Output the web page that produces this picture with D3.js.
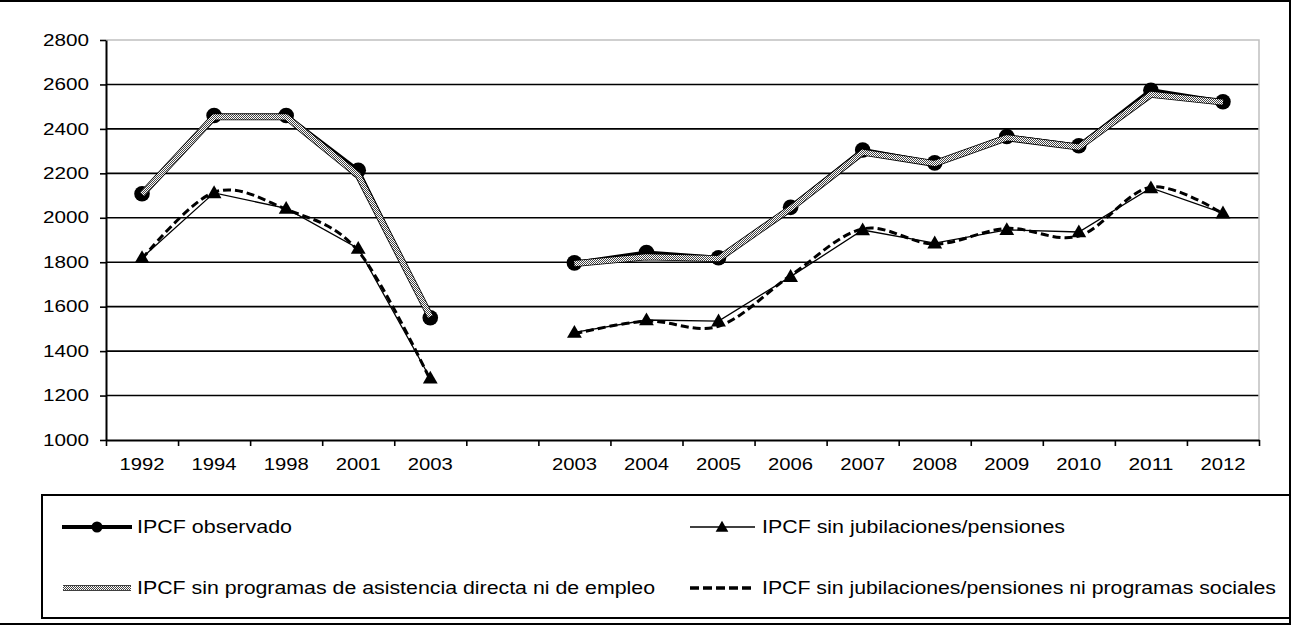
<!DOCTYPE html>
<html>
<head>
<meta charset="utf-8">
<script src="https://cdn.jsdelivr.net/npm/d3@7"></script>
<style>
  body { margin: 0; background: #fff; }
  svg { display: block; font-family: Arial, "Liberation Sans", sans-serif; }
</style>
</head>
<body>
<svg id="chart" width="1301" height="627"></svg>
<script>
// categories (index 5 is the empty gap between the two survey series)
const categories = ["1992", "1994", "1998", "2001", "2003", "", "2003", "2004", "2005", "2006", "2007", "2008", "2009", "2010", "2011", "2012"]
const yTicks = [1000, 1200, 1400, 1600, 1800, 2000, 2200, 2400, 2600, 2800]

const observado   = [2108, 2460, 2460, 2214, 1550, null, 1797, 1844, 1820, 2047, 2305, 2247, 2366, 2324, 2574, 2522]
const sinProgramas = [2106, 2454, 2454, 2192, 1556, null, 1794, 1824, 1816, 2042, 2295, 2244, 2360, 2318, 2555, 2520]
const sinJubilaciones = [1820, 2112, 2042, 1862, 1278, null, 1484, 1540, 1535, 1735, 1945, 1886, 1946, 1936, 2134, 2021]
const sinJubProgramas = [1815, 2115, 2038, 1850, 1270, null, 1478, 1535, 1512, 1740, 1950, 1882, 1952, 1918, 2138, 2018]

const legendLabels = [
    "IPCF observado",
    "IPCF sin jubilaciones/pensiones",
    "IPCF sin programas de asistencia directa ni de empleo",
    "IPCF sin jubilaciones/pensiones ni programas sociales"]

const svg = d3.select("#chart")
const plot = {left: 106, right: 1259, top: 40, bottom: 440}
const fontFam = "Arial, 'Liberation Sans', sans-serif"

// outer frame
svg.append("rect")
    .attr("x", -2).attr("y", 1)
    .attr("width", 1292).attr("height", 623)
    .style("fill", "none").style("stroke", "#000").style("stroke-width", 2)

// checker pattern for the "sin programas" line
const defs = svg.append("defs")
const pat = defs.append("pattern")
    .attr("id", "checker")
    .attr("patternUnits", "userSpaceOnUse")
    .attr("width", 2).attr("height", 2)
pat.append("rect").attr("width", 2).attr("height", 2).style("fill", "#fff")
pat.append("rect").attr("width", 1).attr("height", 1).style("fill", "#444")
pat.append("rect").attr("x", 1).attr("y", 1).attr("width", 1).attr("height", 1).style("fill", "#444")

const x = d3.scaleBand()
    .domain(d3.range(categories.length))
    .range([plot.left, plot.right])
    .paddingInner(0).paddingOuter(0)
const xEdge = d3.scaleLinear()
    .domain([0, categories.length])
    .range([plot.left, plot.right])
const y = d3.scaleLinear()
    .domain([1000, 2800])
    .range([plot.bottom, plot.top])
const cx = i => x(i) + x.bandwidth() / 2

// gridlines
svg.append("g")
    .selectAll("line")
    .data(yTicks.filter(d => d > 1000 && d < 2800)).enter()
    .append("line")
    .attr("x1", plot.left).attr("x2", plot.right)
    .attr("y1", d => y(d)).attr("y2", d => y(d))
    .style("stroke", "#000").style("stroke-width", 1.6)

// grey plot-area border (top, right)
svg.append("path")
    .attr("d", `M${plot.left},${plot.top}H${plot.right}V${plot.bottom}`)
    .style("fill", "none").style("stroke", "#c0c0c0").style("stroke-width", 1.5)

// y axis
const yAxis = svg.append("g")
    .attr("transform", `translate(${plot.left},0)`)
    .call(d3.axisLeft(y).tickValues(yTicks).tickFormat(d3.format("d")).tickSize(6).tickSizeOuter(0))
yAxis.select(".domain").style("stroke", "#000").style("stroke-width", 2)
yAxis.selectAll(".tick line").style("stroke", "#000").style("stroke-width", 1.6)
yAxis.selectAll(".tick text")
    .attr("x", -17)
    .attr("textLength", 46)
    .attr("lengthAdjust", "spacingAndGlyphs")
    .style("font-size", "16px")
    .style("font-family", fontFam)
    .style("fill", "#000")

// x axis: ticks at the band edges, labels at band centres
const xTicks = svg.append("g")
    .attr("transform", `translate(0,${plot.bottom})`)
    .call(d3.axisBottom(xEdge).tickValues(d3.range(categories.length + 1)).tickFormat("").tickSize(6).tickSizeOuter(0))
xTicks.select(".domain").style("stroke", "#000").style("stroke-width", 2)
xTicks.selectAll(".tick line").style("stroke", "#000").style("stroke-width", 1.6)

const xLabels = svg.append("g")
    .attr("transform", `translate(0,${plot.bottom})`)
    .call(d3.axisBottom(x).tickFormat(i => categories[i]).tickSize(0))
xLabels.select(".domain").remove()
xLabels.selectAll(".tick text")
    .attr("y", 19)
    .attr("textLength", i => categories[i] ? 45 : null)
    .attr("lengthAdjust", "spacingAndGlyphs")
    .style("font-size", "16px")
    .style("font-family", fontFam)
    .style("fill", "#000")

const lineStraight = d3.line()
    .defined(d => d != null)
    .x((d, i) => cx(i))
    .y(d => y(d))
const lineSmooth = d3.line()
    .defined(d => d != null)
    .x((d, i) => cx(i))
    .y(d => y(d))
    .curve(d3.curveCatmullRom.alpha(0))

const triangle = d3.symbol().type(d3.symbolTriangle).size(95)

// IPCF observado
svg.append("path")
    .attr("d", lineStraight(observado))
    .style("fill", "none").style("stroke", "#000").style("stroke-width", 4)
svg.append("g")
    .selectAll("circle")
    .data(observado.map((v, i) => ({v, i})).filter(d => d.v != null)).enter()
    .append("circle")
    .attr("cx", d => cx(d.i)).attr("cy", d => y(d.v))
    .attr("r", 7.8)
    .style("fill", "#000")

// IPCF sin programas (checkered)
svg.append("path")
    .attr("d", lineStraight(sinProgramas))
    .style("fill", "none").style("stroke", "#000").style("stroke-width", 6.8)
    .style("stroke-linejoin", "round")
svg.append("path")
    .attr("d", lineStraight(sinProgramas))
    .style("fill", "none").style("stroke", "url(#checker)").style("stroke-width", 5.2)
    .style("stroke-linejoin", "round")

// IPCF sin jubilaciones/pensiones
svg.append("path")
    .attr("d", lineStraight(sinJubilaciones))
    .style("fill", "none").style("stroke", "#000").style("stroke-width", 1.3)
svg.append("g")
    .selectAll("path")
    .data(sinJubilaciones.map((v, i) => ({v, i})).filter(d => d.v != null)).enter()
    .append("path")
    .attr("d", triangle)
    .attr("transform", d => `translate(${cx(d.i)},${y(d.v) + 1})`)
    .style("fill", "#000")

// IPCF sin jubilaciones/pensiones ni programas sociales (smoothed, dashed)
svg.append("path")
    .attr("d", lineSmooth(sinJubProgramas))
    .style("fill", "none").style("stroke", "#000").style("stroke-width", 3)
    .style("stroke-dasharray", "8,4")

// legend
svg.append("rect")
    .attr("x", 42).attr("y", 495)
    .attr("width", 1248).attr("height", 123)
    .style("fill", "none").style("stroke", "#000").style("stroke-width", 2)

const legend = [
    {x: 137, y: 527, w: 155},
    {x: 762, y: 527, w: 303},
    {x: 137, y: 588, w: 518},
    {x: 762, y: 588, w: 514}]
const lg = svg.append("g")

// symbols
lg.append("line").attr("x1", 62).attr("x2", 132).attr("y1", 527).attr("y2", 527)
    .style("stroke", "#000").style("stroke-width", 4)
lg.append("circle").attr("cx", 97).attr("cy", 527).attr("r", 5.5).style("fill", "#000")

lg.append("line").attr("x1", 690).attr("x2", 755).attr("y1", 527).attr("y2", 527)
    .style("stroke", "#000").style("stroke-width", 1.3)
lg.append("path").attr("d", triangle.size(70)).attr("transform", "translate(722,528)").style("fill", "#000")

lg.append("line").attr("x1", 63).attr("x2", 131).attr("y1", 588).attr("y2", 588)
    .style("stroke", "#000").style("stroke-width", 5.5)
lg.append("line").attr("x1", 63).attr("x2", 131).attr("y1", 588).attr("y2", 588)
    .style("stroke", "url(#checker)").style("stroke-width", 3.8)

lg.append("line").attr("x1", 690).attr("x2", 755).attr("y1", 588).attr("y2", 588)
    .style("stroke", "#000").style("stroke-width", 3.5).style("stroke-dasharray", "9,4")

lg.selectAll("text")
    .data(legend).enter()
    .append("text")
    .attr("x", d => d.x)
    .attr("y", d => d.y + 6)
    .attr("textLength", d => d.w)
    .attr("lengthAdjust", "spacingAndGlyphs")
    .style("font-size", "17.5px")
    .style("font-family", fontFam)
    .style("fill", "#000")
    .text((d, i) => legendLabels[i])
</script>
</body>
</html>
